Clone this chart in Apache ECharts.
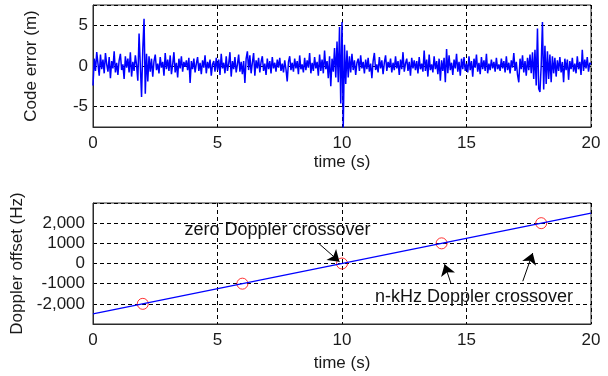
<!DOCTYPE html>
<html>
<head>
<meta charset="utf-8">
<script src="https://cdn.jsdelivr.net/npm/echarts@6/dist/echarts.min.js"></script>
<style>
  html, body { margin: 0; padding: 0; background: #fff; }
  #main { width: 608px; height: 376px; }
</style>
</head>
<body>
<div id="main"></div>
<script>
// code error (m), one sample every 0.05 s from 0 to 20 s
const dt = 0.05
const codeError = [
  -2.4, 0.9, -0.6, 1.7, 0.3, -1.2, 1.4, -0.4, 0.8, -0.9, 1.6, 0.2, -0.7, 1.1, -1.5, 0.6, -0.3, 1.8, -0.8, 0.4,
  -1.1, 0.7, 1.5, -0.5, 0.2, -1.6, 1.2, -0.2, 0.9, -0.8, 1.7, -1.3, 0.5, -0.6, 1.3, 0.1, -1.8, 4.0, 3.8, -3.8,
  2.1, 5.8, -3.4, 1.5, -1.9, 1.2, -0.7, 0.9, -1.3, 0.6, 1.4, -0.5, 0.3, -0.9, 1.1, -0.2, 0.5, -1.2, 1.6, -0.4,
  0.8, -0.6, 1.3, -1.0, 0.2, 1.7, -0.8, 0.4, -1.4, 0.9, -0.3, 1.2, -0.7, 0.5, -0.1, 0.7, -0.5, 1.0, -2.1, 0.6,
  -0.4, 0.9, -0.8, 0.3, 1.1, -0.6, 0.4, -1.0, 0.7, -0.2, 1.3, -0.9, 0.5, -0.3, 0.8, -1.2, 0.2, 0.6, -0.7, 1.0,
  -0.5, 0.8, -1.1, 1.5, -0.3, 0.4, -0.9, 1.2, -0.6, 0.3, 1.7, -1.3, 0.6, -0.4, 1.1, -0.8, 0.2, 1.4, -0.7, 0.5,
  -1.0, 0.6, -2.1, 0.9, 1.8, -0.5, 1.3, -0.9, 0.4, 1.6, -1.2, 0.7, -0.3, 1.0, -0.8, 0.5, 1.2, -0.6, 0.3, -1.1,
  0.9, -0.4, 0.6, -0.9, 1.1, -0.3, 0.4, -0.7, 0.8, -0.2, 1.0, -0.6, 0.3, -0.8, 0.7, -0.4, -1.9, 0.5, 1.2, -0.5,
  0.4, -0.7, 0.9, -0.3, 0.6, -1.0, 1.3, -0.4, 0.2, -0.8, 1.0, -0.5, 0.7, -0.2, 1.6, -0.9, 0.4, -0.6, 1.1, -0.3,
  0.5, -1.2, 1.4, -0.6, 0.8, -0.9, 1.9, -0.4, 0.6, -1.5, 1.2, -2.5, 0.9, -0.7, 2.2, -1.4, 3.0, -2.0, 4.8, -4.6,
  5.4, -7.6, 2.6, -2.2, 1.9, -1.4, 1.2, -0.8, 1.5, -0.5, 0.7, -1.1, 0.4, 0.9, -0.6, 1.3, -0.3, 0.5, -0.9, 0.8,
  -0.4, 1.0, -0.7, 0.3, -1.5, 0.6, 1.6, -0.5, 0.2, -0.8, 1.1, -0.3, 0.7, -1.0, 0.4, 1.3, -0.6, 0.5, -0.2, 0.9,
  -0.8, 0.4, -0.5, 1.2, -0.3, 0.6, -1.1, 0.8, -0.4, 1.7, -0.7, 0.3, 0.9, -0.6, 0.5, -1.2, 1.0, -0.3, 0.7, -0.5,
  0.6, -0.9, 1.1, -0.4, 0.3, -0.7, 1.9, -0.6, 0.8, -1.3, 1.4, -0.5, 0.2, -0.8, 1.2, -0.4, 0.6, -1.0, 0.9, -1.8,
  0.7, -0.6, 1.0, -2.0, 2.1, -0.9, 1.3, -0.5, 0.4, -1.1, 0.8, -0.3, 1.5, -0.7, 0.5, -1.2, 0.9, -0.4, 1.1, -0.6,
  0.3, -0.8, 1.2, -0.5, 0.6, -1.3, 0.9, -0.2, 1.4, -0.7, 0.4, -1.0, 1.1, -0.4, 0.7, -0.6, 1.5, -0.9, 0.3, -0.5,
  0.8, -0.3, 0.5, -0.7, 1.0, -0.4, 0.2, -0.6, 0.9, -0.3, 0.6, -0.8, 1.2, -0.5, 0.4, -0.9, 0.7, -0.2, 1.6, -0.6,
  0.5, -1.1, -2.0, 0.9, -0.4, 1.3, -0.8, 0.6, -1.2, 1.0, -0.5, 1.4, -0.9, 1.7, -1.6, 2.0, -2.4, 4.6, -2.8, -3.2,
  0.1, 5.4, -2.9, 2.5, -2.2, 1.8, -1.6, 1.4, -2.0, 1.2, -0.9, 1.0, -1.3, 0.7, -0.6, 1.1, -0.8, 0.5, -2.0, 0.9,
  -0.5, 0.8, -1.7, 0.6, -0.4, 1.0, -0.7, 0.3, -0.9, 1.2, -0.4, 0.5, -1.1, 2.0, -0.6, 0.8, -0.3, 1.1, -0.7, 0.4,
  0.2
]

// Doppler offset (Hz): straight line and the marked crossover points
const dopplerTime = [0, 20]
const dopplerOffset = [-2500, 2500]
const crossTime = [2, 6, 10, 14, 18]
const crossOffset = [-2000, -1000, 0, 1000, 2000]

const dopplerLabels = { '2000': '2,000', '1000': '1000', '0': '0', '-1000': '-1000', '-2000': '-2,000' }

const font = 'Liberation Sans, Arial, sans-serif'
const txt = '#1a1a1a'
const frame = '#2b2b2b'

let myChart = echarts.init(document.getElementById('main'))

const codeData = codeError.map((v, i) => [+(i * dt).toFixed(2), v])
const lineData = dopplerTime.map((t, i) => [t, dopplerOffset[i]])
const crossData = crossTime.map((t, i) => [t, crossOffset[i]])

const gridDash = { color: '#000', width: 1, type: [4, 3] }

function xAxis (gridIndex, gap) {
  return {
    type: 'value', gridIndex: gridIndex, min: 0, max: 20, interval: 5,
    name: 'time (s)', nameLocation: 'middle', nameGap: gap,
    nameTextStyle: { color: txt, fontSize: 17, fontFamily: font },
    axisLine: { onZero: false, lineStyle: { color: frame } },
    axisTick: { show: false },
    axisLabel: { color: txt, fontSize: 17, fontFamily: font, margin: 8 },
    splitLine: { show: true, lineStyle: gridDash }
  }
}

const option = {
  animation: false,
  grid: [
    { left: 93, width: 498, top: 5, height: 122, show: true, borderColor: frame, borderWidth: 1 },
    { left: 93, width: 498, top: 203, height: 121, show: true, borderColor: frame, borderWidth: 1 }
  ],
  xAxis: [xAxis(0, 27), xAxis(1, 31)],
  yAxis: [
    {
      type: 'value', gridIndex: 0, min: -7.5, max: 7.5, splitNumber: 3,
      name: 'Code error (m)', nameLocation: 'middle', nameGap: 53,
      nameTextStyle: { color: txt, fontSize: 17, fontFamily: font },
      axisLine: { lineStyle: { color: frame } },
      axisTick: { show: false },
      axisLabel: {
        color: txt, fontSize: 17, fontFamily: font, margin: 5,
        formatter: v => (v % 5 === 0 ? String(v) : '')
      },
      splitLine: { show: true, lineStyle: gridDash }
    },
    {
      type: 'value', gridIndex: 1, min: -3000, max: 3000, interval: 1000,
      name: 'Doppler offset (Hz)', nameLocation: 'middle', nameGap: 61,
      nameTextStyle: { color: txt, fontSize: 17, fontFamily: font },
      axisLine: { lineStyle: { color: frame } },
      axisTick: { show: false },
      axisLabel: {
        color: txt, fontSize: 17, fontFamily: font, margin: 8,
        formatter: v => dopplerLabels[String(v)] || ''
      },
      splitLine: { show: true, lineStyle: gridDash }
    }
  ],
  series: [
    {
      type: 'line', xAxisIndex: 0, yAxisIndex: 0, data: codeData,
      showSymbol: false, clip: true,
      lineStyle: { color: '#0000ff', width: 1.5 }
    },
    {
      type: 'line', xAxisIndex: 1, yAxisIndex: 1, data: lineData,
      showSymbol: false,
      lineStyle: { color: '#0000ff', width: 1.2 },
      markLine: {
        silent: true, symbol: ['none', 'arrow'], symbolSize: 11,
        label: { show: false },
        lineStyle: { color: '#000', width: 1, type: 'solid' },
        data: [
          [{ coord: [9.08, 980] }, { coord: [9.9, 90] }],
          [{ coord: [14.37, -970] }, { coord: [14.12, -40] }],
          [{ coord: [17.26, -880] }, { coord: [17.66, 520] }]
        ]
      }
    },
    {
      type: 'scatter', xAxisIndex: 1, yAxisIndex: 1, data: crossData,
      symbol: 'circle', symbolSize: 11,
      itemStyle: { color: 'rgba(0,0,0,0)', borderColor: '#ff0000', borderWidth: 1 }
    }
  ]
}
myChart.setOption(option)

// annotation texts, placed through the lower grid's scales
const notes = [
  { text: 'zero Doppler crossover', at: [7.41, 1650] },
  { text: 'n-kHz Doppler crossover', at: [15.3, -1640] }
]
myChart.setOption({
  graphic: notes.map(n => {
    const p = myChart.convertToPixel({ gridIndex: 1 }, n.at)
    return {
      type: 'text', x: p[0], y: p[1], z: 100,
      style: {
        text: n.text, fill: '#111', font: '18px ' + font,
        textAlign: 'center', textVerticalAlign: 'middle'
      }
    }
  })
})
</script>
</body>
</html>
